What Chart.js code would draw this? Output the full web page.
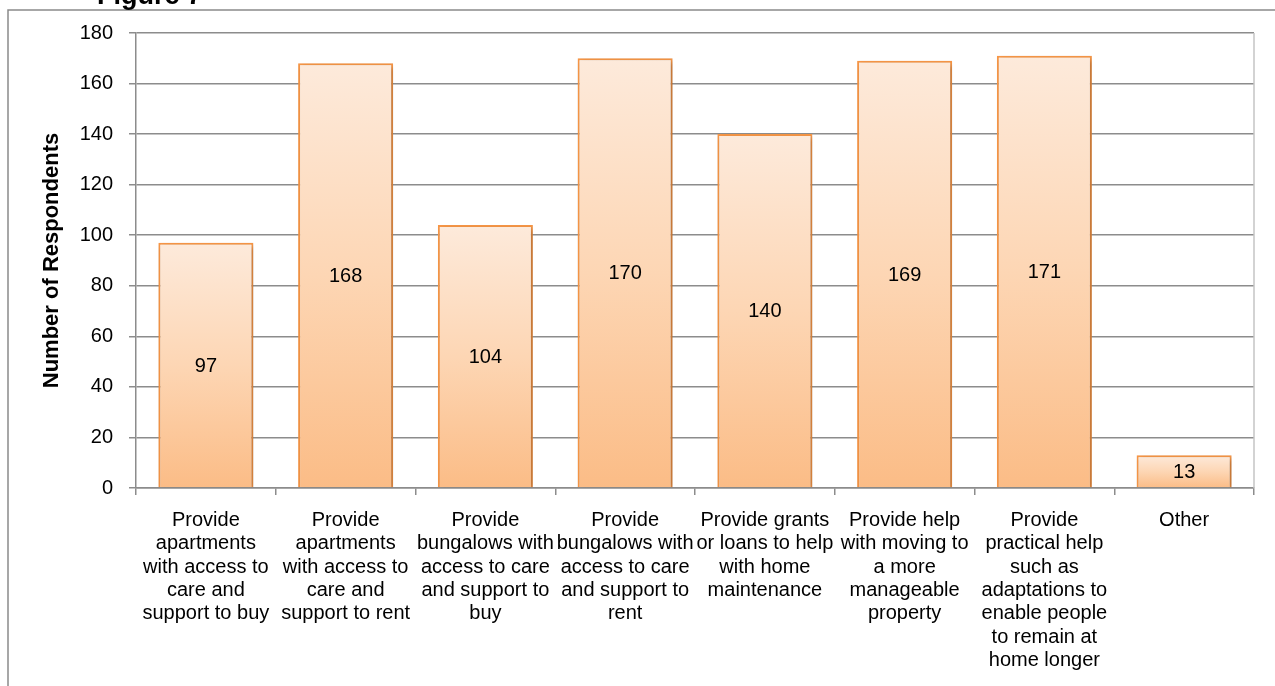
<!DOCTYPE html>
<html>
<head>
<meta charset="utf-8">
<title>Figure 7</title>
<script src="https://cdn.jsdelivr.net/npm/chart.js@4.4.1/dist/chart.umd.min.js"></script>
<style>
  body { margin: 0; background: #fff; }
  canvas { display: block; }
</style>
</head>
<body>
<canvas id="myChart" width="1275" height="686"></canvas>
<script>
// categorias (etiquetas del eje x, ya partidas en lineas)
const categorias = [
  ["Provide", "apartments", "with access to", "care and", "support to buy"],
  ["Provide", "apartments", "with access to", "care and", "support to rent"],
  ["Provide", "bungalows with", "access to care", "and support to", "buy"],
  ["Provide", "bungalows with", "access to care", "and support to", "rent"],
  ["Provide grants", "or loans to help", "with home", "maintenance"],
  ["Provide help", "with moving to", "a more", "manageable", "property"],
  ["Provide", "practical help", "such as", "adaptations to", "enable people", "to remain at", "home longer"],
  ["Other"]
];
// numero de encuestados por opcion
const respuestas = [97, 168, 104, 170, 140, 169, 171, 13];
// marcas del eje y
const ticksY = [0, 20, 40, 60, 80, 100, 120, 140, 160, 180];

const fuente = "'Liberation Sans', Arial, sans-serif";

//degradado por barra: claro arriba, naranja abajo
function degradadoBarra(ctx) {
  const chart = ctx.chart;
  const y = chart.scales.y;
  if (!y || ctx.raw === undefined) return "#fbc08f";
  const top = y.getPixelForValue(ctx.raw);
  const base = y.getPixelForValue(0);
  if (!isFinite(top) || !isFinite(base)) return "#fbc08f";
  const g = chart.ctx.createLinearGradient(0, top, 0, base);
  g.addColorStop(0, "#fdeadb");
  g.addColorStop(0.5, "#fdd6b4");
  g.addColorStop(1, "#fbbc86");
  return g;
}

//sombra suave detras de las barras
const sombraBarras = {
  id: "sombraBarras",
  beforeDatasetDraw(chart) {
    const c = chart.ctx;
    c.save();
    c.shadowColor = "rgba(0,0,0,0.3)";
    c.shadowBlur = 5;
    c.shadowOffsetX = 2;
    c.shadowOffsetY = 2;
  },
  afterDatasetDraw(chart) {
    chart.ctx.restore();
  },
};

//valores en el centro de cada barra
const etiquetasValor = {
  id: "etiquetasValor",
  afterDatasetsDraw(chart) {
    const c = chart.ctx;
    const meta = chart.getDatasetMeta(0);
    c.save();
    c.font = "20px " + fuente;
    c.fillStyle = "#000";
    c.textAlign = "center";
    c.textBaseline = "middle";
    meta.data.forEach((bar, i) => {
      c.fillText(respuestas[i], bar.x, (bar.y + bar.base) / 2 + 1);
    });
    c.restore();
  },
};

//marco exterior, borde derecho del area y titulo
const marco = {
  id: "marco",
  beforeDraw(chart) {
    const c = chart.ctx;
    c.save();
    c.fillStyle = "#fff";
    c.fillRect(0, 0, chart.width, chart.height);
    c.restore();
  },
  afterDraw(chart) {
    const c = chart.ctx;
    const a = chart.chartArea;
    c.save();
    c.strokeStyle = "#c4c4c4";
    c.lineWidth = 1.5;
    c.beginPath();
    c.moveTo(a.right, a.top);
    c.lineTo(a.right, a.bottom);
    c.stroke();

    c.strokeStyle = "#8a8a8a";
    c.lineWidth = 1.5;
    c.beginPath();
    c.moveTo(chart.width, 10);
    c.lineTo(8, 10);
    c.lineTo(8, chart.height);
    c.stroke();

    c.font = "bold 27px " + fuente;
    c.fillStyle = "#000";
    c.textAlign = "left";
    c.textBaseline = "alphabetic";
    c.fillText("Figure 7", 97, 4);
    c.restore();
  },
};

const config = {
  type: "bar",
  data: {
    labels: categorias,
    datasets: [
      {
        label: "Number of Respondents",
        data: respuestas,
        backgroundColor: degradadoBarra,
        borderColor: "#f79646",
        borderWidth: 2,
        categoryPercentage: 1,
        barPercentage: 0.68,
      },
    ],
  },
  options: {
    responsive: false,
    animation: false,
    layout: { padding: { top: 33, right: 21, left: 0, bottom: 0 } },
    plugins: {
      legend: { display: false },
      tooltip: { enabled: false },
    },
    scales: {
      x: {
        grid: {
          drawOnChartArea: false,
          drawTicks: true,
          tickLength: 7,
          color: "#8c8c8c",
          lineWidth: 1.5,
        },
        border: { color: "#8c8c8c", width: 1.5 },
        ticks: {
          color: "#000",
          padding: 14,
          maxRotation: 0,
          autoSkip: false,
          font: { family: fuente, size: 20, lineHeight: 1.165 },
        },
        afterFit: (s) => { s.height = 686 - 488; },
      },
      y: {
        min: 0,
        max: 180,
        afterBuildTicks: (s) => { s.ticks = ticksY.map((v) => ({ value: v })); },
        grid: {
          color: "#8c8c8c",
          lineWidth: 1.5,
          tickLength: 7,
        },
        border: { color: "#8c8c8c", width: 1.5 },
        ticks: {
          color: "#000",
          padding: 16,
          font: { family: fuente, size: 20 },
        },
        title: {
          display: true,
          text: "Number of Respondents",
          color: "#000",
          padding: { top: 39, bottom: 0 },
          font: { family: fuente, size: 22, weight: "bold", lineHeight: 1.2 },
        },
        afterFit: (s) => { s.width = 136; },
      },
    },
  },
  plugins: [sombraBarras, etiquetasValor, marco],
};

const myChart = new Chart(document.getElementById("myChart"), config);
</script>
</body>
</html>
